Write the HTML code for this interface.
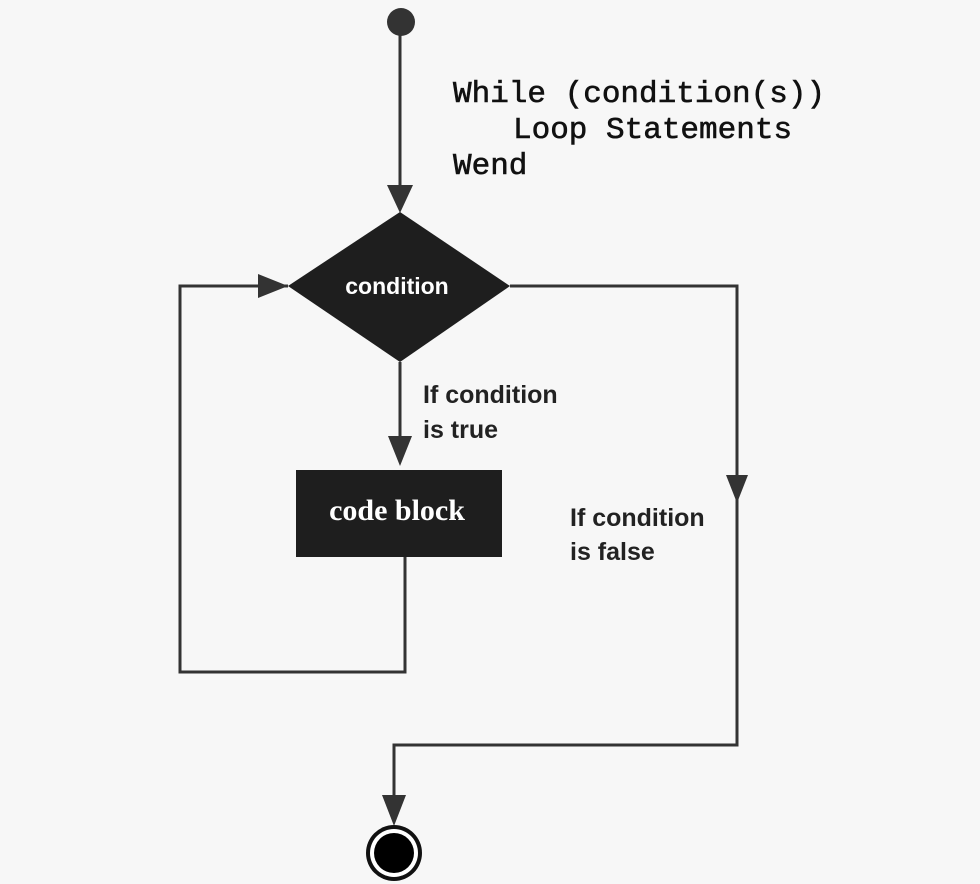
<!DOCTYPE html>
<html><head><meta charset="utf-8"><style>
html,body{margin:0;padding:0;background:#f7f7f7;}
svg{display:block}
</style></head><body>
<svg width="980" height="884" viewBox="0 0 980 884" xmlns="http://www.w3.org/2000/svg">
<rect width="980" height="884" fill="#f7f7f7"/>
<g stroke="#333" stroke-width="3" fill="none">
<line x1="400" y1="30" x2="400" y2="190"/>
<polyline points="288,286 180,286 180,672 405,672 405,557"/>
<polyline points="510,286 737,286 737,745 394,745 394,800"/>
<line x1="400" y1="362" x2="400" y2="440"/>
</g>
<g fill="#333">
<circle cx="401" cy="22" r="14"/>
<polygon points="387,185 413,185 400,213"/>
<polygon points="258,274 258,298 288,286"/>
<polygon points="388,436 412,436 400,466"/>
<polygon points="726,475 748,475 737,503"/>
<polygon points="382,795 406,795 394,826"/>
</g>
<polygon points="400,212 510,286 400,362 288,286" fill="#1e1e1e"/>
<rect x="296" y="470" width="206" height="87" fill="#1e1e1e"/>
<circle cx="394" cy="853" r="28" fill="#111"/>
<circle cx="394" cy="853" r="24" fill="#fff"/>
<circle cx="394" cy="853" r="20" fill="#000"/>
<g font-family="Liberation Mono, monospace" font-size="31" fill="#111" stroke="#111" stroke-width="0.6">
<text x="453" y="102">While (condition(s))</text>
<text x="513" y="138">Loop Statements</text>
<text x="453" y="174">Wend</text>
</g>
<text x="397" y="294" text-anchor="middle" font-family="Liberation Sans, sans-serif" font-weight="bold" font-size="23" fill="#fff">condition</text>
<text x="397" y="520" text-anchor="middle" font-family="Liberation Serif, serif" font-weight="bold" font-size="30" fill="#fff">code block</text>
<g font-family="Liberation Sans, sans-serif" font-weight="bold" font-size="25" fill="#222">
<text x="423" y="403">If condition</text>
<text x="423" y="438">is true</text>
<text x="570" y="526">If condition</text>
<text x="570" y="560">is false</text>
</g>
</svg>
</body></html>
